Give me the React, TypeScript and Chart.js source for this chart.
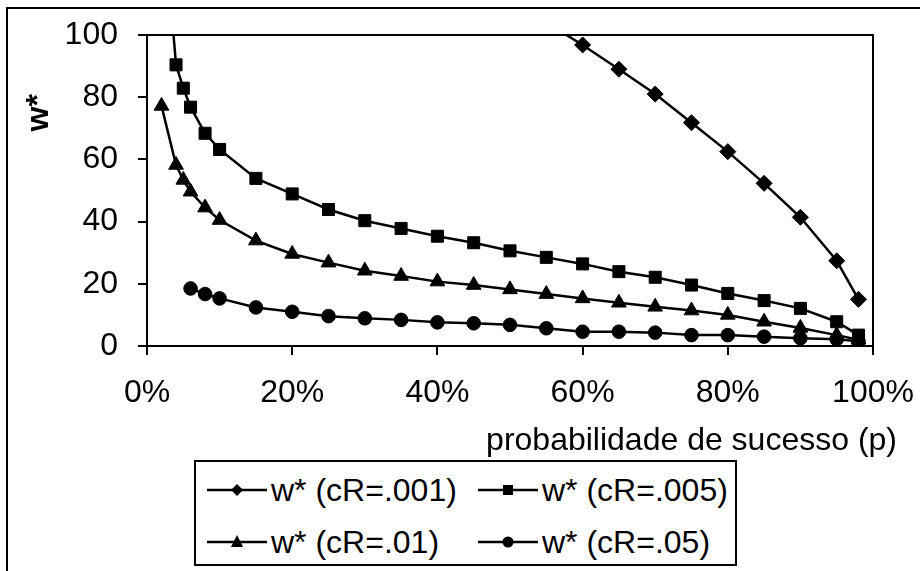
import React, { useEffect, useRef } from 'react';
import { Chart, registerables } from 'chart.js';

Chart.register(...registerables);

const FONT = '"Liberation Sans", Arial, Helvetica, sans-serif';
const FS = 32;

// ---- data ----
const seriesLabels = ['w* (cR=.001)', 'w* (cR=.005)', 'w* (cR=.01)', 'w* (cR=.05)'];

const p001 = [55, 60, 65, 70, 75, 80, 85, 90, 95, 98];
const w001 = [104, 96.8, 89, 81, 71.8, 62.5, 52.3, 41.4, 27.4, 15];

const p005 = [3, 4, 5, 6, 8, 10, 15, 20, 25, 30, 35, 40, 45, 50, 55, 60, 65, 70, 75, 80, 85, 90, 95, 98];
const w005 = [118, 90.4, 82.9, 76.8, 68.4, 63.2, 53.9, 48.9, 43.9, 40.3, 37.8, 35.3, 33.2, 30.6, 28.5, 26.4, 23.9, 22.1, 19.6, 16.9, 14.6, 12.1, 7.8, 3.5];

const p01 = [2, 4, 5, 6, 8, 10, 15, 20, 25, 30, 35, 40, 45, 50, 55, 60, 65, 70, 75, 80, 85, 90, 95, 98];
const w01 = [77.2, 58.2, 53.4, 49.6, 44.5, 40.5, 33.9, 29.6, 26.8, 24.2, 22.5, 20.7, 19.6, 18.2, 16.7, 15.3, 13.9, 12.6, 11.4, 10, 7.8, 5.8, 3.5, 2];

const p05 = [6, 8, 10, 15, 20, 25, 30, 35, 40, 45, 50, 55, 60, 65, 70, 75, 80, 85, 90, 95, 98];
const w05 = [18.5, 16.7, 15.3, 12.4, 11, 9.6, 8.9, 8.4, 7.6, 7.3, 6.8, 5.7, 4.6, 4.6, 4.3, 3.5, 3.5, 3.0, 2.5, 2.2, 1.5];

const xTitle = 'probabilidade de sucesso (p)';
const yTitle = 'w*';
const xMin = 0, xMax = 100, xStep = 20;
const yMin = 0, yMax = 100, yStep = 20;

const pointStyles = ['rectRot', 'rect', 'triangle', 'circle'];
const pointRadii = [8, 8.5, 8.5, 6.8];

const toPts = (xs: number[], ys: number[]) => xs.map((x, i) => ({ x, y: ys[i] }));

const framePlugin = {
  id: 'plotFrame',
  afterDatasetsDraw(chart: any) {
    const { ctx, chartArea: a } = chart;
    ctx.save();
    ctx.strokeStyle = '#000';
    ctx.lineWidth = 2;
    ctx.strokeRect(a.left, a.top, a.right - a.left, a.bottom - a.top);
    ctx.restore();
  },
};

const titlePlugin = {
  id: 'axisTitles',
  afterDraw(chart: any) {
    const { ctx, chartArea: a, scales } = chart;
    ctx.save();
    ctx.fillStyle = '#000';
    ctx.font = `bold ${FS}px ${FONT}`;
    ctx.translate(a.left - 108, scales.y.getPixelForValue(75));
    ctx.rotate(-Math.PI / 2);
    ctx.textAlign = 'center';
    ctx.textBaseline = 'middle';
    ctx.fillText(yTitle, 0, 0);
    ctx.restore();

    ctx.save();
    ctx.fillStyle = '#000';
    ctx.font = `${FS}px ${FONT}`;
    ctx.textAlign = 'right';
    ctx.textBaseline = 'alphabetic';
    ctx.fillText(xTitle, a.right + 24, a.bottom + 104);
    ctx.restore();
  },
};

function Sample({ kind }: { kind: number }) {
  const c = '#000';
  let marker: React.ReactNode = null;
  if (kind === 0) marker = <polygon points="30,4 36,10 30,16 24,10" fill={c} />;
  if (kind === 1) marker = <rect x={25} y={5} width={10} height={10} fill={c} />;
  if (kind === 2) marker = <polygon points="30,3 36,15 24,15" fill={c} />;
  if (kind === 3) marker = <circle cx={30} cy={10} r={5.5} fill={c} />;
  return (
    <svg width={60} height={20} style={{ display: 'block', flex: 'none' }}>
      <line x1={0} y1={10} x2={60} y2={10} stroke={c} strokeWidth={2.5} />
      {marker}
    </svg>
  );
}

export default function App() {
  const ref = useRef<HTMLCanvasElement | null>(null);

  useEffect(() => {
    if (!ref.current) return;
    const allX = [p001, p005, p01, p05];
    const allY = [w001, w005, w01, w05];
    const axisCommon = {
      grid: { display: true, drawOnChartArea: false, drawTicks: true, tickLength: 9, color: '#000', lineWidth: 2 },
      border: { display: true, color: '#000', width: 2 },
    };
    const chart = new Chart(ref.current, {
      type: 'line',
      data: {
        datasets: seriesLabels.map((label, i) => ({
          label,
          data: toPts(allX[i], allY[i]),
          borderColor: '#000',
          backgroundColor: '#000',
          borderWidth: 2.5,
          pointStyle: pointStyles[i] as any,
          pointRadius: pointRadii[i],
          pointHoverRadius: pointRadii[i],
          pointBorderWidth: 1,
          pointBorderColor: '#000',
          pointBackgroundColor: '#000',
          tension: 0,
          fill: false,
          clip: { left: 12, right: 12, top: 0, bottom: 0 } as any,
        })),
      },
      options: {
        responsive: false,
        animation: false,
        layout: { padding: { top: 35, right: 47, left: 0, bottom: 0 } },
        plugins: { legend: { display: false }, tooltip: { enabled: false } },
        scales: {
          x: {
            type: 'linear',
            min: xMin,
            max: xMax,
            ...axisCommon,
            ticks: {
              stepSize: xStep,
              callback: (v: any) => `${v}%`,
              font: { size: FS, family: FONT },
              color: '#000',
              padding: 19,
              maxRotation: 0,
              autoSkip: false,
            },
            afterFit: (s: any) => { s.height = 225; s.paddingLeft = 0; s.paddingRight = 0; },
          },
          y: {
            type: 'linear',
            min: yMin,
            max: yMax,
            ...axisCommon,
            ticks: {
              stepSize: yStep,
              font: { size: FS, family: FONT },
              color: '#000',
              padding: 20,
            },
            afterFit: (s: any) => { s.width = 147; s.paddingTop = 0; s.paddingBottom = 0; },
          },
        },
      },
      plugins: [framePlugin, titlePlugin],
    });
    return () => chart.destroy();
  }, []);

  const legendItems = [
    { kind: 0, left: 13, top: 30 },
    { kind: 1, left: 284, top: 30 },
    { kind: 2, left: 13, top: 82 },
    { kind: 3, left: 284, top: 82 },
  ];

  return (
    <div style={{ position: 'fixed', left: 0, top: 0, width: 920, height: 571, background: '#fff', overflow: 'hidden' }}>
      <div style={{ position: 'absolute', left: 6, top: 7, right: -10, bottom: -10, borderLeft: '2px solid #000', borderTop: '2px solid #000' }} />
      <canvas ref={ref} width={920} height={571} style={{ position: 'absolute', left: 0, top: 0 }} />
      <div style={{ position: 'absolute', left: 194, top: 460, width: 543, height: 106, boxSizing: 'border-box', border: '2px solid #000', background: '#fff', fontFamily: FONT, fontSize: FS, color: '#000' }}>
        {legendItems.map((it) => (
          <div key={it.kind} style={{ position: 'absolute', left: it.left - 2, top: it.top - 2 - 18, height: 36, display: 'flex', alignItems: 'center', whiteSpace: 'nowrap' }}>
            <Sample kind={it.kind} />
            <span style={{ marginLeft: 4, lineHeight: '36px' }}>{seriesLabels[it.kind]}</span>
          </div>
        ))}
      </div>
    </div>
  );
}
